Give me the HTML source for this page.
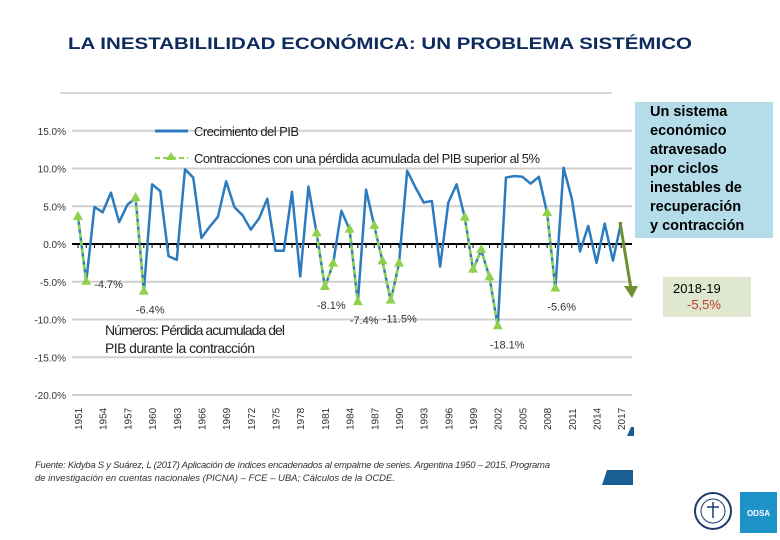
<!DOCTYPE html>
<html><head><meta charset="utf-8">
<style>
body{margin:0;width:780px;height:540px;background:#fff;position:relative;overflow:hidden;font-family:"Liberation Sans",sans-serif}
.abs{position:absolute}
#blue-box{left:635px;top:102px;width:138px;height:136px;background:#b4dce9;font-weight:bold;font-size:14.5px;line-height:19px;color:#000;padding:1px 0 0 15px;box-sizing:border-box;white-space:nowrap}
#green-box{left:663px;top:277px;width:88px;height:40px;background:#dfe8cf;font-size:13px;line-height:16px;padding:4px 0 0 10px;box-sizing:border-box}
</style></head><body>
<svg class="abs" style="left:0;top:0" width="780" height="540">
<text x="68" y="49" font-size="17" font-weight="bold" fill="#0d2b5c" textLength="624" lengthAdjust="spacingAndGlyphs">LA INESTABILILIDAD ECONÓMICA: UN PROBLEMA SISTÉMICO</text>
<line x1="60" y1="93" x2="612" y2="93" stroke="#c8c8c8" stroke-width="1.5"/>
<g id="grid"></g><g id="axis"></g><g id="series"></g><g id="labels"></g>
<g>
<line x1="155" y1="131" x2="188" y2="131" stroke="#2c7bbf" stroke-width="3"/>
<text x="194" y="136" font-size="13" fill="#222" textLength="105">Crecimiento del PIB</text>
<line x1="155" y1="158" x2="188" y2="158" stroke="#8fd14f" stroke-width="2" stroke-dasharray="5,3"/>
<polygon points="171,152 176,160 166,160" fill="#8fd14f"/>
<text x="194" y="163" font-size="13" fill="#222" textLength="346">Contracciones con una pérdida acumulada del PIB superior al 5%</text>
</g>
<text x="105" y="335" font-size="14" fill="#222" textLength="180">Números: Pérdida acumulada del</text>
<text x="105" y="353" font-size="14" fill="#222" textLength="150">PIB durante la contracción</text>
<text x="35" y="468" font-size="9.5" font-style="italic" fill="#333" textLength="515">Fuente: Kidyba S y Suárez, L (2017) Aplicación de índices encadenados al empalme de series. Argentina 1950 – 2015. Programa</text>
<text x="35" y="481" font-size="9.5" font-style="italic" fill="#333" textLength="360">de investigación en cuentas nacionales (PICNA) – FCE – UBA; Cálculos de la OCDE.</text>
<line x1="620" y1="222" x2="631" y2="289" stroke="#6f8f2f" stroke-width="3"/>
<polygon points="624,286 638,286 632,298" fill="#6f8f2f"/>
<polygon points="631,427 634,427 634,436 627,436" fill="#1a5f94"/>
<polygon points="607,470 633,470 633,485 602,485" fill="#1a5f94"/>
<g>
<circle cx="713" cy="511" r="18" fill="#fff" stroke="#1c3a6e" stroke-width="2"/>
<circle cx="713" cy="511" r="12" fill="none" stroke="#1c3a6e" stroke-width="1"/>
<line x1="713" y1="502" x2="713" y2="518" stroke="#1c3a6e" stroke-width="1.5"/>
<line x1="707" y1="507" x2="719" y2="507" stroke="#1c3a6e" stroke-width="1.5"/>
</g>
<rect x="740" y="492" width="37" height="41" fill="#1d93c9"/>
<text x="758.5" y="516" font-size="8" font-weight="bold" fill="#fff" text-anchor="middle">ODSA</text>
</svg>
<div id="blue-box" class="abs">Un sistema<br>económico<br>atravesado<br>por ciclos<br>inestables de<br>recuperación<br>y contracción</div>
<div id="green-box" class="abs">2018-19<br><span style="color:#c0392b;padding-left:14px">-5,5%</span></div>
<script>
const years=[];for(let y=1951;y<=2017;y++)years.push(y);
const gdp=[3.6,-5.0,4.9,4.2,6.8,2.9,5.2,6.1,-6.3,7.9,7.0,-1.6,-2.1,9.9,8.8,0.8,2.3,3.6,8.3,4.9,3.8,1.9,3.4,6.0,-0.9,-0.9,6.9,-4.3,7.6,1.4,-5.7,-2.6,4.4,1.9,-7.7,7.2,2.4,-2.3,-7.5,-2.6,9.7,7.5,5.5,5.7,-3.0,5.5,7.9,3.5,-3.4,-0.8,-4.4,-10.9,8.8,9.0,8.9,8.0,8.9,4.1,-5.9,10.1,6.0,-1.0,2.4,-2.5,2.7,-2.2,2.9];
const contractions=[[1951,1952],[1958,1959],[1980,1981,1982],[1984,1985],[1987,1988,1989,1990],[1998,1999,2000,2001,2002],[2008,2009]];
const lossLabels=["-4.7%","-6.4%","-8.1%","-7.4%","-11.5%","-18.1%","-5.6%"];
const lossYears=[1952,1959,1981,1985,1989,2002,2009];
const yTicks=[15,10,5,0,-5,-10,-15,-20];
const NS="http://www.w3.org/2000/svg";
const X=y=>78+(y-1951)*8.23, Y=v=>244-v*7.55;
function mk(t,a,p){const e=document.createElementNS(NS,t);for(const k in a)e.setAttribute(k,a[k]);p.appendChild(e);return e;}
const grid=document.getElementById('grid'),axis=document.getElementById('axis'),ser=document.getElementById('series'),lab=document.getElementById('labels');
yTicks.forEach(v=>{
 if(v!==0){const l=mk('line',{x1:72,x2:632,y1:Y(v),y2:Y(v),stroke:'#d0d0d0','stroke-width':2},grid);
 
 }
 const t=mk('text',{x:66,y:Y(v)+4,'font-size':10,'text-anchor':'end',fill:'#333'},grid);
 
 
 t.textContent=v.toFixed(1)+'%';
});
mk('line',{x1:72,x2:632,y1:Y(0),y2:Y(0),stroke:'#000','stroke-width':2},axis);
years.forEach(y=>{mk('line',{x1:X(y),x2:X(y),y1:Y(0),y2:Y(0)+4,stroke:'#000','stroke-width':1},axis);
 if((y-1951)%3===0){const t=mk('text',{transform:`translate(${X(y)+4},430) rotate(-90)`,'font-size':10,fill:'#333'},axis);
 
 
 t.textContent=y;}});
const p=mk('polyline',{points:years.map((y,i)=>X(y)+','+Y(gdp[i])).join(' '),fill:'none',stroke:'#2c7bbf','stroke-width':2.5,'stroke-linejoin':'round'},ser);


contractions.forEach(seg=>{
 const pts=seg.map(y=>[X(y),Y(gdp[y-1951])]);
 const l=mk('polyline',{points:pts.map(q=>q.join(',')).join(' '),fill:'none',stroke:'#8fd14f','stroke-width':2.5,'stroke-dasharray':'5,3'},ser);
 
 
 pts.forEach(q=>{const t=mk('polygon',{points:`${q[0]},${q[1]-6} ${q[0]+5},${q[1]+3} ${q[0]-5},${q[1]+3}`,fill:'#8fd14f'},ser);
 
 });
});
lossYears.forEach((y,i)=>{
 const v=gdp[y-1951];
 const t=mk('text',{x:X(y)+(i===0?8:-8),y:(i===0?Y(v)+6:Y(v)+22),'font-size':11,fill:'#333'},lab);
 
 
 t.textContent=lossLabels[i];
});
</script>
</body></html>
